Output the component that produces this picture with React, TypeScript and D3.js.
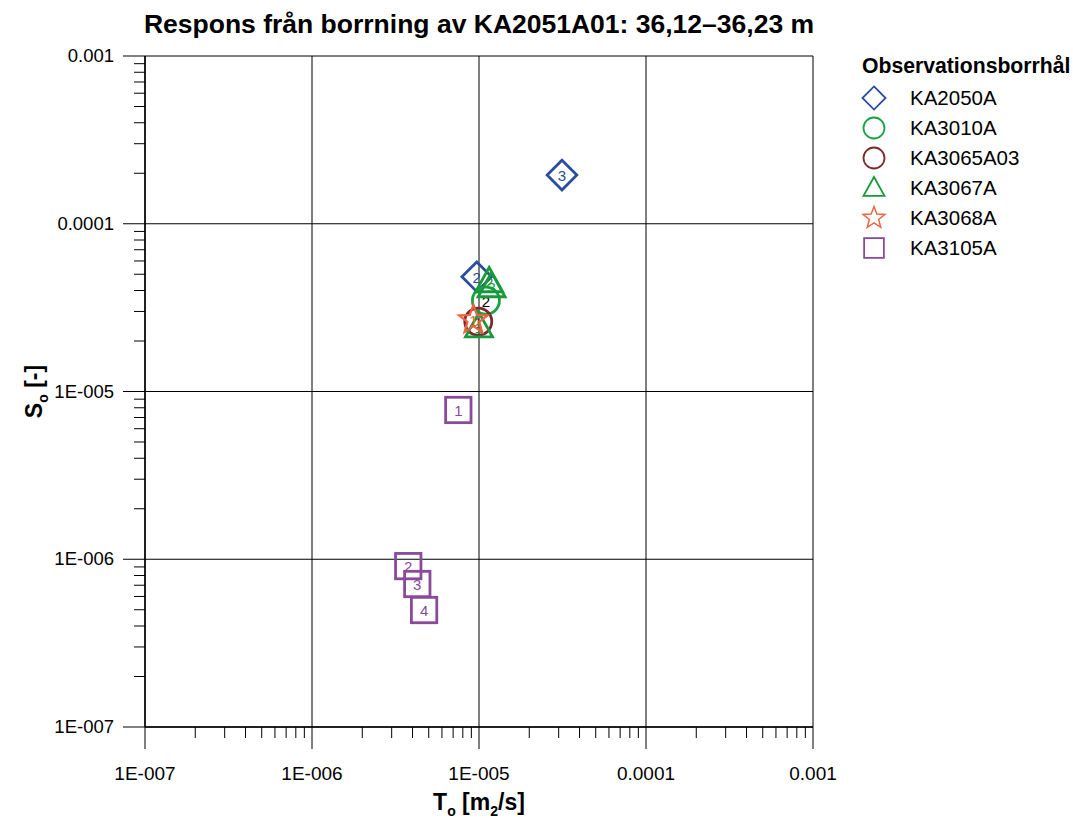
import React from 'react';
import * as d3 from 'd3';

// borehole series, values
const seriesNames = ["KA2050A", "KA3010A", "KA3065A03", "KA3067A", "KA3068A", "KA3105A"];
const seriesColors = ["#2b4da0", "#17a243", "#7b2b2b", "#179a3a", "#ea6440", "#8a4a9c"];
const seriesShapes = ["diamond", "circle", "circle", "triangle", "star", "square"];

const ka2050T = [9.7e-6, 3.14e-5];
const ka2050S = [4.83e-5, 1.95e-4];
const ka2050Lbl = ["2", "3"];

const ka3010T = [1.1e-5];
const ka3010S = [3.48e-5];
const ka3010Lbl = ["2"];

const ka3065T = [9.9e-6];
const ka3065S = [2.61e-5];
const ka3065Lbl = ["1"];

const ka3067T = [1.0e-5, 1.15e-5, 1.19e-5];
const ka3067S = [2.43e-5, 4.52e-5, 4.22e-5];
const ka3067Lbl = ["1", "2", "3"];

const ka3068T = [9.25e-6];
const ka3068S = [2.67e-5];
const ka3068Lbl = ["1"];

const ka3105T = [7.52e-6, 3.77e-6, 4.27e-6, 4.69e-6];
const ka3105S = [7.76e-6, 9.1e-7, 7.12e-7, 4.98e-7];
const ka3105Lbl = ["1", "2", "3", "4"];

const decadeTicks = [1e-7, 1e-6, 1e-5, 1e-4, 1e-3];
const decadeLabels = ["1E-007", "1E-006", "1E-005", "0.0001", "0.001"];
const yDecadeLabels = ["1E-007", "1E-006", "1E-005", "0.0001", "0.001"];

const allT = [ka2050T, ka3010T, ka3065T, ka3067T, ka3068T, ka3105T];
const allS = [ka2050S, ka3010S, ka3065S, ka3067S, ka3068S, ka3105S];
const allLbl = [ka2050Lbl, ka3010Lbl, ka3065Lbl, ka3067Lbl, ka3068Lbl, ka3105Lbl];

const W = 1073, H = 818;
const margin = { left: 145, right: 260, top: 56, bottom: 91 };

const x = d3.scaleLog().domain([1e-7, 1e-3]).range([margin.left, W - margin.right]);
const y = d3.scaleLog().domain([1e-7, 1e-3]).range([H - margin.bottom, margin.top]);

const minorTicks: number[] = [];
decadeTicks.slice(0, -1).forEach(d => {
  for (let k = 2; k <= 9; k++) minorTicks.push(d * k);
});

const font = "Arial, 'Liberation Sans', sans-serif";

function Marker({ shape, color, cx, cy, s, sw = 2.4 }: { shape: string, color: string, cx: number, cy: number, s: number, sw?: number }) {
  if (shape === "diamond") {
    const r = s * 0.55;
    return <path d={`M${cx},${cy - r}L${cx + r},${cy}L${cx},${cy + r}L${cx - r},${cy}Z`} fill="none" stroke={color} strokeWidth={sw} />;
  }
  if (shape === "circle") {
    return <circle cx={cx} cy={cy} r={s * 0.5} fill="none" stroke={color} strokeWidth={sw} />;
  }
  if (shape === "triangle") {
    const r = s * 0.5;
    return <path d={`M${cx},${cy - r * 1.05}L${cx + r},${cy + r * 0.75}L${cx - r},${cy + r * 0.75}Z`} fill="none" stroke={color} strokeWidth={sw} />;
  }
  if (shape === "square") {
    const r = s * 0.47;
    return <rect x={cx - r} y={cy - r} width={2 * r} height={2 * r} fill="none" stroke={color} strokeWidth={sw} />;
  }
  // star
  const outer = s * 0.55, inner = outer * 0.42;
  const pts = d3.range(10).map(i => {
    const a = -Math.PI / 2 + i * Math.PI / 5;
    const rr = i % 2 === 0 ? outer : inner;
    return [cx + rr * Math.cos(a), cy + rr * Math.sin(a)];
  });
  return <path d={"M" + pts.map(p => p.join(",")).join("L") + "Z"} fill="none" stroke={color} strokeWidth={sw * 0.8} />;
}

export default function App() {
  const x0 = margin.left, x1 = W - margin.right;
  const y0 = H - margin.bottom, y1 = margin.top;
  return (
    <svg width={W} height={H} style={{ position: 'absolute', left: 0, top: 0 }} fontFamily={font}>
      <rect width={W} height={H} fill="#fff" />
      <text x={479} y={33} textAnchor="middle" fontSize={26.5} fontWeight="bold">
        Respons från borrning av KA2051A01: 36,12–36,23 m
      </text>

      {/* grid */}
      {decadeTicks.map((d, i) => (
        <g key={"g" + i}>
          <line x1={x(d)} x2={x(d)} y1={y1} y2={y0} stroke="#000" strokeWidth={1} />
          <line x1={x0} x2={x1} y1={y(d)} y2={y(d)} stroke="#000" strokeWidth={1} />
        </g>
      ))}

      {/* axes */}
      <line x1={x0} x2={x0} y1={y1} y2={y0} stroke="#000" strokeWidth={1.5} />
      <line x1={x0} x2={x1} y1={y0} y2={y0} stroke="#000" strokeWidth={1.5} />
      {decadeTicks.map((d, i) => (
        <g key={"t" + i}>
          <line x1={x(d)} x2={x(d)} y1={y0} y2={y0 + 22} stroke="#000" />
          <text x={x(d)} y={y0 + 53} textAnchor="middle" fontSize={19}>{decadeLabels[i]}</text>
          <line x1={x0 - 22} x2={x0} y1={y(d)} y2={y(d)} stroke="#000" />
          <text x={x0 - 31} y={y(d) + 6} textAnchor="end" fontSize={18.5}>{yDecadeLabels[i]}</text>
        </g>
      ))}
      {minorTicks.map((d, i) => (
        <g key={"m" + i}>
          <line x1={x(d)} x2={x(d)} y1={y0} y2={y0 + 11} stroke="#000" />
          <line x1={x0 - 11} x2={x0} y1={y(d)} y2={y(d)} stroke="#000" />
        </g>
      ))}

      {/* axis titles */}
      <text x={479} y={810} textAnchor="middle" fontSize={23} fontWeight="bold">
        T<tspan fontSize={14} dy={6}>o</tspan><tspan dy={-6}> [m</tspan><tspan fontSize={14} dy={6}>2</tspan><tspan dy={-6}>/s]</tspan>
      </text>
      <text transform={`translate(42,${(y0 + y1) / 2}) rotate(-90)`} textAnchor="middle" fontSize={23} fontWeight="bold">
        S<tspan fontSize={14} dy={6}>o</tspan><tspan dy={-6}> [-]</tspan>
      </text>

      {/* points */}
      {seriesNames.map((name, si) => (
        <g key={name}>
          {allT[si].map((t, j) => {
            const cx = x(t), cy = y(allS[si][j]);
            return (
              <g key={j}>
                <Marker shape={seriesShapes[si]} color={seriesColors[si]} cx={cx} cy={cy} s={27} sw={2.8} />
                <text x={cx} y={cy + 6} textAnchor="middle" fontSize={15} fill={si === 1 ? "#000" : seriesColors[si]}>{allLbl[si][j]}</text>
              </g>
            );
          })}
        </g>
      ))}

      {/* legend */}
      <text x={862} y={73} fontSize={21.2} fontWeight="bold">Observationsborrhål</text>
      {seriesNames.map((name, i) => (
        <g key={"l" + i}>
          <Marker shape={seriesShapes[i]} color={seriesColors[i]} cx={874} cy={98 + i * 30} s={21} sw={1.8} />
          <text x={910} y={105 + i * 30} fontSize={20.5}>{name}</text>
        </g>
      ))}
    </svg>
  );
}
